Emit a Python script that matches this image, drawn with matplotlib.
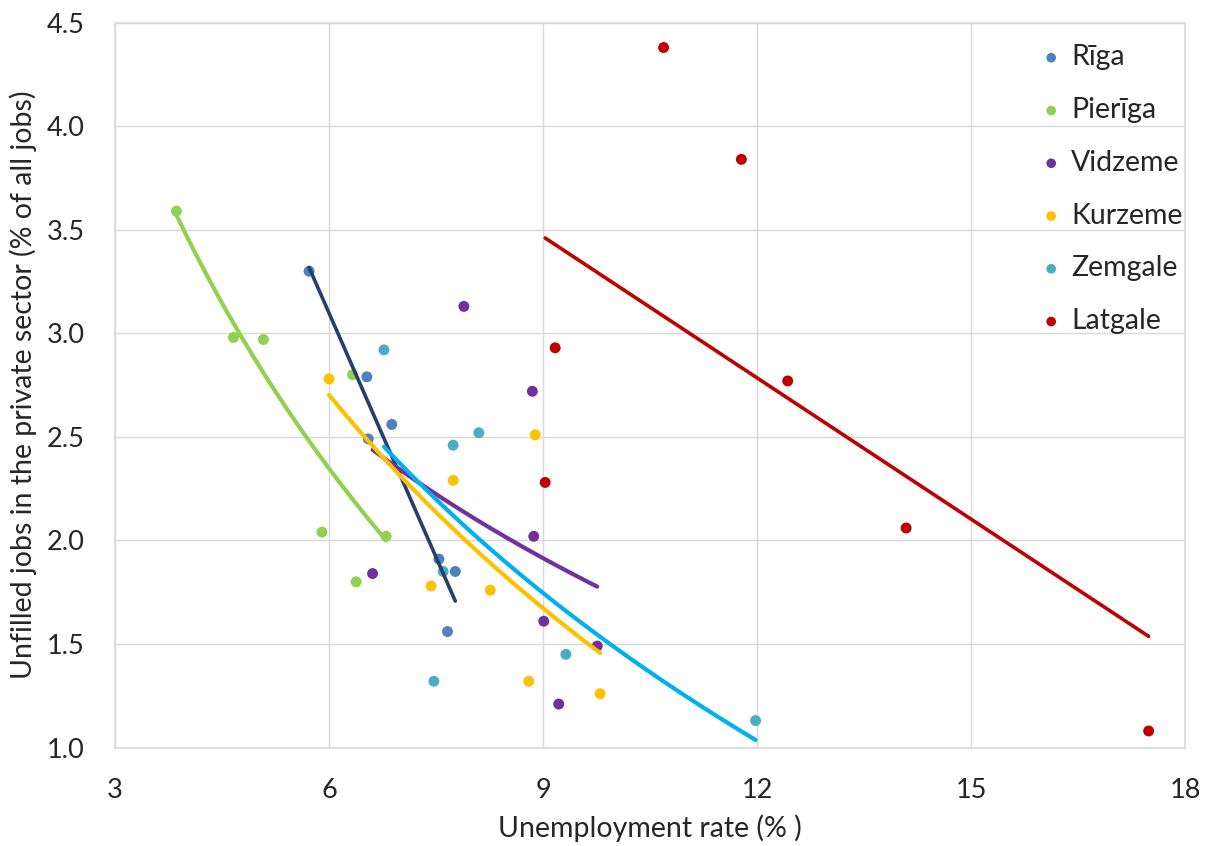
import numpy as np
import matplotlib
matplotlib.use('Agg')
import matplotlib.pyplot as plt

# Data
riga_x = [5.72, 6.53, 6.88, 6.55, 7.54, 7.77, 7.66]
riga_y = [3.30, 2.79, 2.56, 2.49, 1.91, 1.85, 1.56]
pieriga_x = [3.86, 4.66, 5.08, 6.33, 5.90, 6.80, 6.38]
pieriga_y = [3.59, 2.98, 2.97, 2.80, 2.04, 2.02, 1.80]
vidzeme_x = [7.89, 8.85, 8.87, 6.61, 9.01, 9.76, 9.22]
vidzeme_y = [3.13, 2.72, 2.02, 1.84, 1.61, 1.49, 1.21]
kurzeme_x = [6.00, 8.89, 7.74, 7.43, 8.26, 8.80, 9.80]
kurzeme_y = [2.78, 2.51, 2.29, 1.78, 1.76, 1.32, 1.26]
zemgale_x = [6.77, 8.10, 7.74, 7.60, 9.32, 7.47, 11.98]
zemgale_y = [2.92, 2.52, 2.46, 1.85, 1.45, 1.32, 1.13]
latgale_x = [10.69, 11.78, 9.17, 12.43, 9.03, 14.09, 17.49]
latgale_y = [4.38, 3.84, 2.93, 2.77, 2.28, 2.06, 1.08]

regions = ['Rīga', 'Pierīga', 'Vidzeme', 'Kurzeme', 'Zemgale', 'Latgale']
xs = [riga_x, pieriga_x, vidzeme_x, kurzeme_x, zemgale_x, latgale_x]
ys = [riga_y, pieriga_y, vidzeme_y, kurzeme_y, zemgale_y, latgale_y]
# trendline type per region (as in the source spreadsheet)
fit_types = ['linear', 'log', 'log', 'log', 'log', 'linear']

dot_colors = ['#4F81BD', '#92D050', '#7030A0', '#FFC000', '#4BACC6', '#C00000']
line_colors = ['#243F6B', '#92D050', '#7030A0', '#FFC000', '#00B0F0', '#C00000']
line_widths = [2.6, 3.0, 3.0, 3.0, 3.0, 2.6]

plt.rcParams['font.family'] = ['Lato', 'DejaVu Sans']
text_color = '#262626'
grid_color = '#D9D9D9'

fig = plt.figure(figsize=(12.06, 8.46), dpi=100)
ax = fig.add_axes([0.0954, 0.1164, 0.8872, 0.8568])

for name, x, y, c in zip(regions, xs, ys, dot_colors):
    ax.scatter(x, y, s=62, color=c, edgecolors='none', label=name, zorder=3)

# trendlines
for x, y, kind, c, lw in zip(xs, ys, fit_types, line_colors, line_widths):
    x = np.array(x)
    y = np.array(y)
    xx = np.linspace(x.min(), x.max(), 200)
    if kind == 'linear':
        k, b = np.polyfit(x, y, 1)
        yy = k * xx + b
    else:
        k, b = np.polyfit(np.log(x), y, 1)
        yy = k * np.log(xx) + b
    ax.plot(xx, yy, color=c, lw=lw, solid_capstyle='round', zorder=4)

ax.set_xlim(3, 18)
ax.set_ylim(1.0, 4.5)
ax.set_xticks([3, 6, 9, 12, 15, 18])
ax.set_yticks(np.arange(1.0, 4.51, 0.5))
ax.yaxis.set_major_formatter(matplotlib.ticker.FormatStrFormatter('%.1f'))
ax.grid(True, color=grid_color, lw=1.0)
ax.set_axisbelow(True)
for s in ax.spines.values():
    s.set_color(grid_color)
    s.set_linewidth(1.2)
ax.tick_params(length=0, labelsize=19.5, colors=text_color)
ax.tick_params(axis='x', pad=22)
ax.tick_params(axis='y', pad=22)

ax.set_xlabel('Unemployment rate (% )', fontsize=20.5, color=text_color, labelpad=8)
ax.set_ylabel('Unfilled jobs in the private sector (% of all jobs)', fontsize=20.5,
              color=text_color, labelpad=7)

leg = ax.legend(loc='upper left', bbox_to_anchor=(0.851, 0.986), frameon=False,
                fontsize=20.5, labelspacing=0.94, handlelength=1.0, handletextpad=0.2,
                markerscale=0.88, borderaxespad=0)
for t in leg.get_texts():
    t.set_color(text_color)

fig.savefig('out.png', dpi=100)
